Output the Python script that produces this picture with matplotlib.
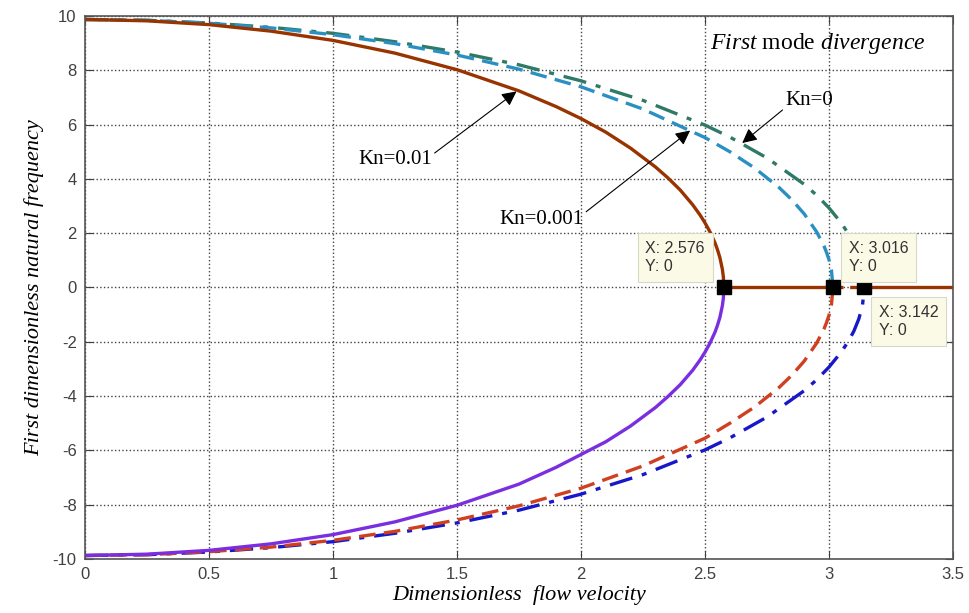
import numpy as np
import matplotlib.pyplot as plt

plt.rcParams['mathtext.fontset'] = 'custom'
plt.rcParams['mathtext.it'] = 'Liberation Serif:italic'
plt.rcParams['mathtext.rm'] = 'Liberation Serif'
plt.rcParams['axes.unicode_minus'] = False

# velocities / frequencies
u_001 = [0, 0.25, 0.5, 0.75, 1.0, 1.25, 1.5, 1.75, 1.9, 2.0, 2.1, 2.2, 2.3, 2.35, 2.4, 2.45,
         2.48, 2.5, 2.52, 2.54, 2.55, 2.56, 2.57, 2.574, 2.576]
up_001 = [9.87, 9.82, 9.68, 9.44, 9.10, 8.63, 8.02, 7.24, 6.66, 6.22, 5.72, 5.13, 4.44, 4.04, 3.59, 3.05,
          2.67, 2.38, 2.05, 1.65, 1.40, 1.10, 0.67, 0.39, 0.0]
lo_001 = [-9.87, -9.82, -9.68, -9.44, -9.10, -8.63, -8.02, -7.24, -6.62, -6.15, -5.68, -5.10, -4.42, -4.02, -3.58, -3.05,
          -2.67, -2.38, -2.05, -1.65, -1.40, -1.10, -0.67, -0.39, 0.0]

u_0001 = [0, 0.25, 0.5, 0.75, 1.0, 1.25, 1.5, 1.75, 2.0, 2.25, 2.5, 2.6, 2.7, 2.8, 2.85, 2.9,
          2.95, 2.98, 2.99, 3.0, 3.01, 3.016]
up_0001 = [9.87, 9.84, 9.73, 9.56, 9.31, 8.98, 8.56, 8.04, 7.39, 6.57, 5.52, 5.00, 4.40, 3.67, 3.23, 2.71,
           2.05, 1.52, 1.29, 1.02, 0.62, 0.0]
lo_0001 = [-9.87, -9.84, -9.73, -9.56, -9.31, -8.98, -8.56, -8.04, -7.39, -6.57, -5.55, -5.00, -4.40, -3.67, -3.23, -2.71,
           -2.05, -1.52, -1.29, -1.02, -0.62, 0.0]

u_0 = [0, 0.25, 0.5, 0.75, 1.0, 1.25, 1.5, 1.75, 2.0, 2.25, 2.5, 2.6, 2.75, 2.9, 2.95, 3.0,
       3.05, 3.08, 3.1, 3.12, 3.135, 3.142]
up_0 = [9.87, 9.84, 9.74, 9.58, 9.36, 9.05, 8.67, 8.20, 7.61, 6.89, 5.98, 5.54, 4.77, 3.80, 3.40, 2.93,
        2.37, 1.95, 1.61, 1.16, 0.66, 0.0]
lo_0 = [-9.87, -9.84, -9.74, -9.58, -9.36, -9.05, -8.67, -8.20, -7.61, -6.89, -5.98, -5.54, -4.77, -3.80, -3.40, -2.93,
        -2.37, -1.95, -1.61, -1.16, -0.66, 0.0]

crit_u = [2.576, 3.016, 3.142]
crit_labels = ['X: 2.576\nY: 0', 'X: 3.016\nY: 0', 'X: 3.142\nY: 0']

fig = plt.figure(figsize=(9.7, 6.13), dpi=100)
ax = fig.add_axes([0.0876, 0.088, 0.8949, 0.886])

dashdot = (0, (7, 3, 1.5, 3))
dash = (0, (5, 2.5))

# upper branches
ax.plot(u_0, up_0, color='#2e7a66', lw=2.4, ls=dashdot)
ax.plot(u_0001, up_0001, color='#2a90c4', lw=2.4, ls=dash)
ax.plot(u_001, up_001, color='#993300', lw=2.4)
# lower branches
ax.plot(u_0, lo_0, color='#1818c8', lw=2.4, ls=dashdot)
ax.plot(u_0001, lo_0001, color='#d04020', lw=2.4, ls=dash)
ax.plot(u_001, lo_001, color='#7a2ee0', lw=2.4)

# zero frequency after divergence
ax.plot([crit_u[0], crit_u[1]], [0, 0], color='#993300', lw=2.4)
ax.plot([crit_u[1], crit_u[2]], [0, 0], color='#993300', lw=2.4, ls=(0, (3, 2)))
ax.plot([crit_u[2], 3.5], [0, 0], color='#993300', lw=2.4)

ax.plot(crit_u, [0, 0, 0], 's', color='k', ms=10, zorder=5)

# data tips
tip_pos = [(2.26, 1.1), (3.08, 1.1), (3.2, -1.25)]
for (tx, ty), lab in zip(tip_pos, crit_labels):
    ax.text(tx, ty, lab, fontsize=11.5, family='Liberation Sans', color='#333333',
            linespacing=1.25, va='center', ha='left', zorder=6,
            bbox=dict(boxstyle='square,pad=0.5', fc='#fafae6', ec='#d8d8c8', lw=0.8))

# annotations
ax.annotate('Kn=0.01', xy=(1.74, 7.22), xytext=(1.25, 4.7), fontsize=15,
            family='Liberation Serif', ha='center', va='center',
            arrowprops=dict(arrowstyle='-|>', color='k', lw=0.8, mutation_scale=22,
                            shrinkA=0, shrinkB=0, relpos=(1.0, 0.75)))
ax.annotate('Kn=0.001', xy=(2.44, 5.78), xytext=(1.84, 2.5), fontsize=15,
            family='Liberation Serif', ha='center', va='center',
            arrowprops=dict(arrowstyle='-|>', color='k', lw=0.8, mutation_scale=22,
                            shrinkA=0, shrinkB=0, relpos=(1.0, 0.8)))
ax.annotate('Kn=0', xy=(2.65, 5.32), xytext=(2.92, 6.9), fontsize=15,
            family='Liberation Serif', ha='center', va='center',
            arrowprops=dict(arrowstyle='-|>', color='k', lw=0.8, mutation_scale=22,
                            shrinkA=0, shrinkB=0, relpos=(0.0, 0.1)))

ax.text(3.39, 9.0, r'$\mathit{First}$ mode $\mathit{divergence}$', fontsize=17,
        ha='right', va='center', family='Liberation Serif')

ax.set_xlim(0, 3.5)
ax.set_ylim(-10, 10)
ax.set_xticks(np.arange(0, 3.51, 0.5))
ax.set_xticklabels(['0', '0.5', '1', '1.5', '2', '2.5', '3', '3.5'])
ax.set_yticks(np.arange(-10, 11, 2))
ax.tick_params(direction='in', top=True, right=True, labelsize=12,
               labelcolor='#404040', length=6, color='#404040', pad=6)
for lab in ax.get_xticklabels() + ax.get_yticklabels():
    lab.set_family('Liberation Sans')
for s in ax.spines.values():
    s.set_color('#555555')
    s.set_linewidth(1.2)
ax.grid(True, ls=':', color='#444444', lw=1.0)

ax.set_xlabel('Dimensionless  flow velocity', fontsize=16, style='italic',
              family='Liberation Serif', labelpad=2)
ax.set_ylabel('First dimensionless natural frequency', fontsize=16, style='italic',
              family='Liberation Serif', labelpad=6)

fig.savefig('out.png', dpi=100)
